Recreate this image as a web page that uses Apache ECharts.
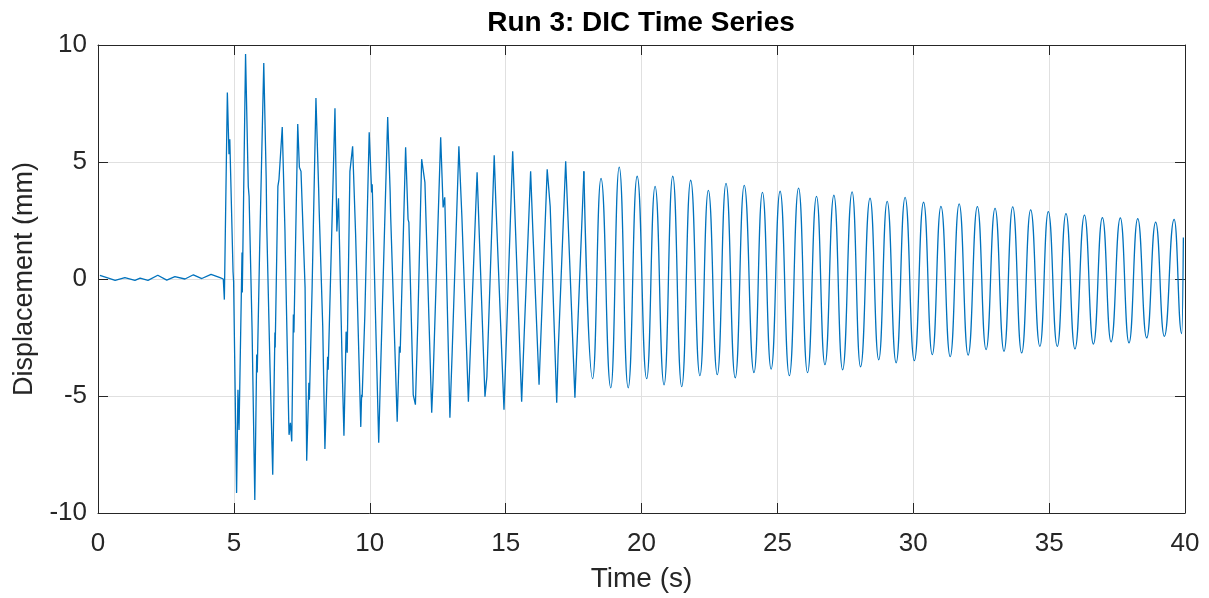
<!DOCTYPE html>
<html>
<head>
<meta charset="utf-8">
<script src="https://cdn.jsdelivr.net/npm/echarts@6/dist/echarts.min.js"></script>
<style>
html,body{margin:0;padding:0;background:#fff;}
#chart{width:1209px;height:598px;}
</style>
</head>
<body>
<div id="chart"></div>
<script>
// Early part (pre-shaking noise and first strong cycles), time in s
const timeEarly = [0.07,0.44,0.63,0.99,1.36,1.55,1.84,2.20,2.53,2.83,3.20,3.51,3.82,4.16,4.49,4.61,
4.65,4.76,4.82,4.85,4.97,4.99,5.10,5.15,5.19,5.30,5.31,5.43,5.53,5.56,5.67,5.77,5.84,5.86,5.95,6.10,
6.19,6.21,6.33,6.43,6.51,6.52,6.62,6.66,6.78,6.88,6.89,7.02,7.03,7.08,7.13,7.19,7.21,7.35,7.41,7.47,
7.62,7.68,7.76,7.78,7.88,8.02,8.12,8.14,8.27,8.35,8.45,8.47,8.72,8.79,8.85,9.00,9.05,9.13,9.17,9.27,
9.37,9.48,9.67,9.70,9.72,9.82,9.98,10.07,10.09,10.33,10.40,10.66,10.75,10.77,11.01,11.09,11.12,11.32,
11.41,11.44,11.60,11.68,11.77,11.91,12.03,12.28,12.33,12.35,12.61,12.70,12.76,12.95,13.03,13.28,13.39,
13.63,13.73,13.95,14.24,14.31,14.58,14.64,14.94,15.26,15.35,15.59,15.69,15.92,16.00,16.23,16.53,16.64,
16.88,16.93,17.21,17.30,17.55,17.88];
const dispEarly = [0.15,0.02,-0.06,0.06,-0.06,0.04,-0.06,0.16,-0.05,0.10,0.00,0.18,0.02,0.20,0.06,0.00,
-0.88,7.97,5.33,5.97,0.30,-0.10,-9.14,-4.73,-6.45,1.13,-0.58,9.61,3.96,3.53,-2.16,-9.44,-3.23,-4.00,1.39,9.23,
4.26,2.25,-3.79,-8.37,-2.29,-2.93,3.96,4.26,6.49,2.03,1.35,-6.15,-6.66,-6.15,-6.94,-1.52,-2.29,6.62,4.78,4.60,
-0.36,-7.77,-4.43,-5.16,-0.32,7.73,3.83,2.89,-2.03,-7.26,-3.32,-3.88,7.30,2.03,3.45,-4.43,-6.70,-2.25,-3.15,4.60,
5.67,1.90,-6.32,-4.95,-5.05,-1.52,6.27,3.70,4.05,-7.00,-3.88,6.92,3.75,2.68,-6.10,-2.89,-3.15,5.63,
2.55,2.42,-4.95,-5.37,-1.82,5.12,4.13,-5.72,-4.30,-4.35,6.06,3.06,3.49,-5.93,-3.23,5.67,2.68,
-5.25,-2.16,4.56,-5.03,-4.18,5.29,3.28,-5.59,5.46,2.55,-5.25,-2.16,4.60,2.12,-4.52,4.69,3.10,
-5.29,-3.23,5.03,2.46,-5.07,4.60];
// Later, steadily decaying oscillation (peaks and troughs)
const timeLate = [17.88,18.20,18.51,18.87,19.18,19.51,19.84,20.19,20.50,20.83,21.15,21.48,21.81,22.15,22.46,22.79,
23.11,23.45,23.78,24.14,24.45,24.77,25.10,25.44,25.78,26.11,26.44,26.75,27.08,27.40,27.75,28.06,28.41,28.73,
29.04,29.37,29.70,30.04,30.38,30.70,31.02,31.36,31.69,32.02,32.36,32.68,33.01,33.34,33.66,33.99,34.32,34.66,
34.97,35.30,35.62,35.95,36.30,36.63,36.96,37.28,37.62,37.94,38.26,38.59,38.92,39.24,39.60,39.88,39.94];
const dispLate = [4.60,-4.26,4.30,-4.65,4.78,-4.65,4.39,-4.26,3.96,-4.52,4.39,-4.60,4.22,-4.13,3.79,-4.09,
4.09,-4.22,4.00,-4.00,3.70,-3.85,3.75,-4.13,3.88,-4.00,3.53,-3.66,3.58,-3.88,3.72,-3.75,3.45,-3.45,
3.32,-3.58,3.49,-3.49,3.28,-3.23,3.10,-3.32,3.21,-3.25,3.09,-3.02,3.02,-3.09,3.08,-3.16,2.95,-2.88,
2.88,-2.88,2.79,-2.99,2.73,-2.78,2.62,-2.69,2.61,-2.73,2.58,-2.52,2.43,-2.45,2.55,-2.33,1.77];
const xTicks = [0,5,10,15,20,25,30,35,40];
const yTicks = [-10,-5,0,5,10];

const pairs = (t, v) => t.map((x, i) => [x, v[i]]);
const FONT = 'Liberation Sans, Arial, Helvetica, sans-serif';
const axisCol = '#262626';
const chart = echarts.init(document.getElementById('chart'), null, {renderer: 'canvas'});
const baseX = {
  type: 'value', min: xTicks[0], max: xTicks[xTicks.length-1], interval: 5,
  axisLine: {show: true, onZero: false, lineStyle: {color: axisCol, width: 1}},
  axisTick: {show: true, inside: true, length: 10, lineStyle: {color: axisCol}},
};
const baseY = {
  type: 'value', min: yTicks[0], max: yTicks[yTicks.length-1], interval: 5,
  axisLine: {show: true, onZero: false, lineStyle: {color: axisCol, width: 1}},
  axisTick: {show: true, inside: true, length: 10, lineStyle: {color: axisCol}},
};
chart.setOption({
  animation: false,
  title: {
    text: 'Run 3: DIC Time Series', left: 636, top: 4, textAlign: 'center',
    textStyle: {fontFamily: FONT, fontSize: 28, fontWeight: 'bold', color: '#000'}
  },
  grid: {left: 98, right: 24, top: 45, bottom: 85},
  xAxis: [
    Object.assign({}, baseX, {
      position: 'bottom',
      name: 'Time (s)', nameLocation: 'middle', nameGap: 52,
      nameTextStyle: {fontFamily: FONT, fontSize: 28, color: '#262626'},
      axisLabel: {fontFamily: FONT, fontSize: 26, color: '#262626', margin: 18},
      splitLine: {show: true, lineStyle: {color: '#e0e0e0', width: 1}}
    }),
    Object.assign({}, baseX, {
      position: 'top', axisLabel: {show: false}, splitLine: {show: false}
    })
  ],
  yAxis: [
    Object.assign({}, baseY, {
      position: 'left',
      name: 'Displacement (mm)', nameLocation: 'middle', nameGap: 60, nameRotate: 90,
      nameTextStyle: {fontFamily: FONT, fontSize: 27, color: '#262626'},
      axisLabel: {fontFamily: FONT, fontSize: 26, color: '#262626', margin: 11},
      splitLine: {show: true, lineStyle: {color: '#e0e0e0', width: 1}}
    }),
    Object.assign({}, baseY, {
      position: 'right', axisLabel: {show: false}, splitLine: {show: false}
    })
  ],
  series: [
    {
      type: 'line', data: pairs(timeEarly, dispEarly), showSymbol: false, smooth: false,
      lineStyle: {color: '#0072BD', width: 1.3}, z: 3
    },
    {
      type: 'line', data: pairs(timeLate, dispLate), showSymbol: false, smooth: 0.5, smoothMonotone: 'x',
      lineStyle: {color: '#0072BD', width: 1.3}, z: 3
    }
  ]
});
</script>
</body>
</html>
